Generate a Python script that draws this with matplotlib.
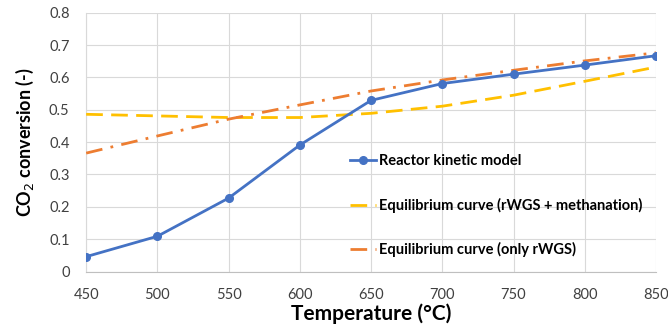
import matplotlib
matplotlib.use("Agg")
import matplotlib.pyplot as plt

temperature = [450, 500, 550, 600, 650, 700, 750, 800, 850]
kinetic = [0.046, 0.109, 0.227, 0.391, 0.529, 0.581, 0.610, 0.638, 0.667]
eq_methanation = [0.486, 0.481, 0.476, 0.476, 0.489, 0.511, 0.545, 0.588, 0.632]
eq_rwgs = [0.366, 0.419, 0.471, 0.515, 0.558, 0.592, 0.622, 0.651, 0.676]

x_ticks = [450, 500, 550, 600, 650, 700, 750, 800, 850]
y_ticks = [0, 0.1, 0.2, 0.3, 0.4, 0.5, 0.6, 0.7, 0.8]
y_labels = ["0", "0.1", "0.2", "0.3", "0.4", "0.5", "0.6", "0.7", "0.8"]

plt.rcParams['font.family'] = ['Lato', 'DejaVu Sans']

fig = plt.figure(figsize=(6.68, 3.34), dpi=100)
ax = fig.add_axes([0.129, 0.187, 0.853, 0.775])

ax.plot(temperature, kinetic, color='#4472C4', lw=2.0, marker='o', ms=5.5,
        label='Reactor kinetic model', zorder=4)
ax.plot(temperature, eq_methanation, color='#FFC000', lw=2.0, dashes=(6, 3),
        label='Equilibrium curve (rWGS + methanation)', zorder=3)
ax.plot(temperature, eq_rwgs, color='#ED7D31', lw=2.0, dashes=(6, 3, 1, 3),
        label='Equilibrium curve (only rWGS)', zorder=3)

ax.set_xlim(450, 850)
ax.set_ylim(0, 0.8)
ax.set_xticks(x_ticks)
ax.set_yticks(y_ticks)
ax.set_yticklabels(y_labels)
ax.tick_params(length=0, labelsize=10.5, colors='#404040')
ax.tick_params(axis='y', pad=12)
ax.tick_params(axis='x', pad=12)
ax.grid(True, color='#D9D9D9', lw=0.8)
for s in ax.spines.values():
    s.set_visible(False)
ax.spines['left'].set_visible(True)
ax.spines['left'].set_color('#D9D9D9')
ax.spines['bottom'].set_visible(True)
ax.spines['bottom'].set_color('#BFBFBF')

ax.set_xlabel('Temperature (°C)', fontsize=15, fontweight='bold', labelpad=1)
ax.set_ylabel('CO$_2$ conversion (-)', fontsize=13, fontweight='bold', labelpad=9)

leg = ax.legend(loc='lower left', bbox_to_anchor=(0.44, 0.004), frameon=False,
                prop={'size': 10.5, 'weight': 'bold'}, labelspacing=2.03,
                handlelength=1.8, handletextpad=0.2)

fig.savefig('out.png', dpi=100)
